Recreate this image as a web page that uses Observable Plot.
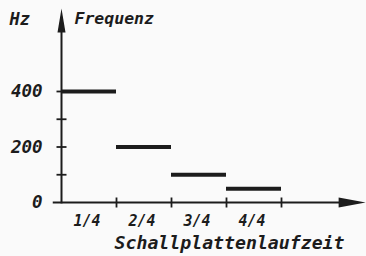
<!DOCTYPE html>
<html>
<head>
<meta charset="utf-8">
<script src="https://cdn.jsdelivr.net/npm/d3@7"></script>
<script src="https://cdn.jsdelivr.net/npm/@observablehq/plot@0.6"></script>
<style>
  html, body { margin: 0; padding: 0; background: #fafafa; }
  #chart svg { display: block; }
</style>
</head>
<body>
<div id="chart"></div>
<script>
// ---- data ----
const categories = ["1/4", "2/4", "3/4", "4/4"];
const frequencies = [400, 200, 100, 50];
const yTickLabels = [0, 200, 400];
const yTickMarks = [100, 200, 300, 400];
const xTickMarks = [1, 2, 3, 4];
const yUnit = "Hz";
const yTitle = "Frequenz";
const xTitle = "Schallplattenlaufzeit";

const ink = "#1c1c1c";
const font = {fontFamily: "DejaVu Sans Mono", fontWeight: "bold", fontStyle: "italic"};

const segments = categories.map((c, i) => ({label: c, start: i, end: i + 1, mid: i + 0.5, f: frequencies[i]}));

// custom symbols
const upArrow = {draw(ctx) { ctx.moveTo(0, 0); ctx.lineTo(-4, 24); ctx.lineTo(4, 24); ctx.closePath(); }};
const rightArrow = {draw(ctx) { ctx.moveTo(0, 0); ctx.lineTo(-27, -5); ctx.lineTo(-27, 5); ctx.closePath(); }};
const hTick = {draw(ctx) { ctx.moveTo(-5, 0); ctx.lineTo(5, 0); }};
const vTick = {draw(ctx) { ctx.moveTo(0, -5); ctx.lineTo(0, 5); }};

const chart = Plot.plot({
  width: 366,
  height: 256,
  margin: 0,
  style: {background: "#fafafa"},
  x: {type: "linear", domain: [0, 4], range: [61, 281], axis: null},
  y: {type: "linear", domain: [0, 400], range: [202, 91], axis: null},
  marks: [
    // axes lines
    Plot.ruleX([0], {y1: -5, y2: 660, stroke: ink, strokeWidth: 2}),
    Plot.ruleY([0], {x1: -0.15, x2: 5.1, stroke: ink, strokeWidth: 2}),
    // arrow heads
    Plot.dot([0], {x: 0, y: 699, symbol: upArrow, fill: ink, stroke: "none"}),
    Plot.dot([0], {x: 5.53, y: 0, symbol: rightArrow, fill: ink, stroke: "none"}),
    // tick marks
    Plot.dot(yTickMarks, {x: 0, y: d => d, symbol: hTick, fill: "none", stroke: ink, strokeWidth: 1.8}),
    Plot.dot(xTickMarks, {x: d => d, y: 0, symbol: vTick, fill: "none", stroke: ink, strokeWidth: 1.8}),
    // frequency segments
    Plot.ruleY(segments, {y: "f", x1: "start", x2: "end", stroke: ink, strokeWidth: 4}),
    // y tick labels
    Plot.text(yTickLabels, {x: 0, y: d => d, text: d => String(d), textAnchor: "end", dx: -19, fontSize: 17.5, fill: ink, ...font}),
    // x labels
    Plot.text(segments, {x: "mid", y: 0, text: "label", dy: 19, dx: -2, fontSize: 15, fill: ink, ...font}),
    // titles
    Plot.text([yUnit], {frameAnchor: "top-left", text: d => d, dx: 9, dy: 12, fontSize: 17, fill: ink, ...font}),
    Plot.text([yTitle], {frameAnchor: "top-left", text: d => d, dx: 74, dy: 12, fontSize: 16.5, fill: ink, ...font}),
    Plot.text([xTitle], {frameAnchor: "top-left", text: d => d, dx: 229, dy: 243, textAnchor: "middle", lineAnchor: "middle", fontSize: 18.2, fill: ink, ...font})
  ]
});
document.getElementById("chart").append(chart);
</script>
</body>
</html>
